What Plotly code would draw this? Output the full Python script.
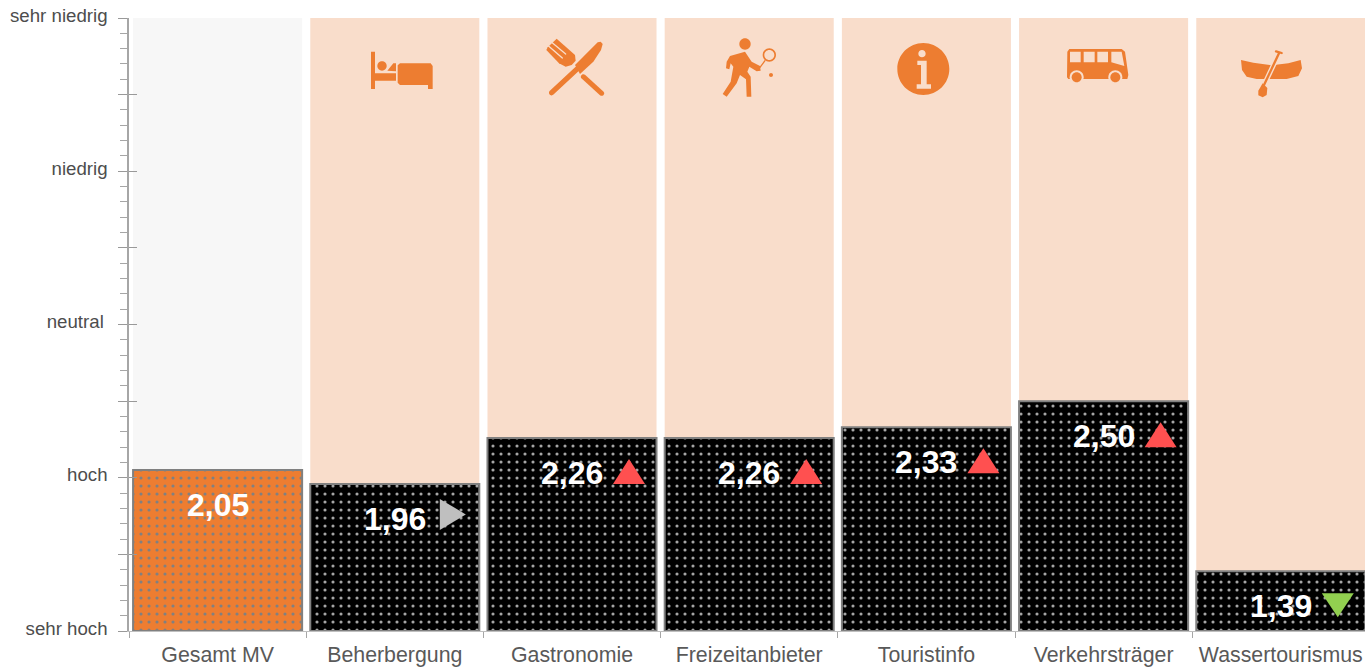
import re
import plotly.graph_objects as go

FONT = "Liberation Sans"
categories = ["Gesamt MV", "Beherbergung", "Gastronomie", "Freizeitanbieter", "Touristinfo", "Verkehrsträger", "Wassertourismus"]
values = [2.05, 1.96, 2.26, 2.26, 2.33, 2.50, 1.39]
labels = ["2,05", "1,96", "2,26", "2,26", "2,33", "2,50", "1,39"]
trends = [None, "same", "up", "up", "up", "up", "down"]
scale_max = 5
scale_min = 1
level_vals = [1, 1.5, 2, 2.5, 3, 3.5, 4, 4.5, 5]
level_text = ["sehr hoch", "", "hoch", "", "neutral\u2009", "", "niedrig", "", "sehr niedrig"]

ORANGE = "#ED7D31"
PEACH = "#F9DDCB"
CENTERS = [129 + 177.2 * (i + .5) for i in range(7)]


# ---- icon geometry helpers; coordinates are in 3x zoomed pixels of an icon box
class Icon:
    def __init__(self, ox, oy, idx):
        self.ox, self.oy, self.cx = ox, oy, CENTERS[idx]

    def pt(self, x, y):
        return f"{self.ox + x / 3 - self.cx:.2f},{-(self.oy + y / 3 - 18):.2f}"

    def poly(self, pts):
        return "M" + " L".join(self.pt(*p) for p in pts) + " Z "

    def ell(self, x, y, rx, ry=None):
        ry = rx if ry is None else ry
        k = .5523
        p = self.pt
        return (f"M{p(x + rx, y)} C{p(x + rx, y + k * ry)} {p(x + k * rx, y + ry)} {p(x, y + ry)} "
                f"C{p(x - k * rx, y + ry)} {p(x - rx, y + k * ry)} {p(x - rx, y)} "
                f"C{p(x - rx, y - k * ry)} {p(x - k * rx, y - ry)} {p(x, y - ry)} "
                f"C{p(x + k * rx, y - ry)} {p(x + rx, y - k * ry)} {p(x + rx, y)} Z ")

    def cap(self, x1, y1, x2, y2, w):
        dx, dy = x2 - x1, y2 - y1
        n = (dx * dx + dy * dy) ** .5 or 1
        ux, uy = dx / n * w / 2, dy / n * w / 2
        p = self.pt
        k = 1.33
        return (f"M{p(x1 - uy, y1 + ux)} L{p(x2 - uy, y2 + ux)} "
                f"C{p(x2 - uy + k * ux, y2 + ux + k * uy)} {p(x2 + uy + k * ux, y2 - ux + k * uy)} {p(x2 + uy, y2 - ux)} "
                f"L{p(x1 + uy, y1 - ux)} "
                f"C{p(x1 + uy - k * ux, y1 - ux - k * uy)} {p(x1 - uy - k * ux, y1 + ux - k * uy)} {p(x1 - uy, y1 + ux)} Z ")


icon_paths = []  # (category index, svg path, fill)


def add(i, col, *parts):
    for part in parts:
        icon_paths.append((i, part, col))


# bed
b = Icon(340, 20, 1)
add(1, ORANGE,
    b.poly([(93, 95), (105, 95), (105, 160), (168, 160), (168, 182), (105, 182), (105, 207), (93, 207)]),
    b.ell(126, 138, 14),
    b.poly([(142, 152), (160, 130), (168, 130), (168, 154)]),
    b.poly([(180, 130), (272, 130), (278, 138), (278, 207), (264, 207), (264, 195), (180, 195), (173, 188), (173, 136)]))
# fork and knife
f = Icon(535, 30, 2)
add(2, ORANGE,
    f.cap(50, 188, 125, 118, 16),
    f.poly([(120, 105), (188, 37), (197, 35), (203, 42), (198, 60), (175, 95), (135, 132)]),
    f.cap(145, 140, 200, 190, 15),
    f.poly([(65, 26), (120, 75), (122, 92), (110, 105), (92, 110), (72, 100), (34, 60), (38, 52)]))
add(2, PEACH, f.cap(49, 36, 92, 72, 4), f.cap(38, 46, 82, 84, 4))
# tennis player
t = Icon(710, 30, 3)
add(3, ORANGE,
    t.ell(105, 42, 17),
    t.poly([(60, 78), (105, 65), (125, 95), (150, 108), (152, 122), (140, 124), (118, 110), (112, 125), (122, 140), (124, 200),
            (110, 200), (108, 148), (90, 135), (80, 160), (50, 200), (38, 192), (62, 155), (70, 110), (62, 100), (58, 118), (48, 115), (50, 95)]),
    t.cap(165, 92, 150, 112, 4),
    t.ell(183, 135, 6),
    t.ell(178, 75, 20) + t.ell(178, 75, 15))
# info
n = Icon(690, 20, 4)
add(4, ORANGE, n.ell(700, 147, 78) + n.ell(696, 101, 11)
    + n.poly([(682, 122), (710, 122), (710, 193), (723, 193), (723, 206), (680, 206), (680, 193), (693, 193), (693, 135), (682, 135)]))
# bus
u = Icon(1040, 20, 5)
add(5, ORANGE, u.poly([(82, 95), (88, 87), (245, 87), (255, 95), (265, 165), (262, 177), (85, 177), (81, 172)])
    + u.poly([(90, 95), (122, 95), (122, 127), (90, 127)]) + u.poly([(131, 95), (164, 95), (164, 127), (131, 127)])
    + u.poly([(172, 95), (204, 95), (204, 127), (172, 127)])
    + u.poly([(214, 95), (245, 95), (253, 138), (214, 127)]))
add(5, PEACH, u.ell(110, 172, 21), u.ell(226, 172, 21))
add(5, ORANGE, u.ell(110, 172, 15), u.ell(226, 172, 15))
# canoe
c = Icon(1040, 20, 6)
add(6, ORANGE, c.poly([(603, 120), (640, 128), (695, 136), (745, 130), (782, 120), (786, 145), (775, 168), (740, 177),
                       (650, 177), (620, 170), (606, 150)]))
add(6, PEACH, c.cap(717, 100, 672, 195, 15))
add(6, ORANGE, c.cap(717, 100, 672, 195, 7), c.cap(708, 94, 725, 99, 7),
    c.poly([(668, 190), (682, 204), (680, 225), (668, 232), (655, 226), (655, 212)]))

tri = {
    "up": ("M-16,-46 L16,-46 L0,-21 Z", "#FF5050", 57),
    "same": ("M-13,-15 L-13,-46 L13,-30.5 Z", "#BFBFBF", 58),
    "down": ("M-16,-22 L16,-22 L0,-46 Z", "#92D050", 57),
}


def value_bars(cats, vals, color, dots):
    return go.Bar(x=cats, y=[v - scale_min for v in vals], base=scale_min, width=.954, hoverinfo="skip", showlegend=False,
                  marker=dict(color=color, line=dict(color="#808080", width=2),
                              pattern=dict(shape=".", size=8, solidity=.12, fgcolor=dots, bgcolor=color, fillmode="replace")))


fig = go.Figure()
fig.add_bar(x=categories, y=[scale_max - scale_min] * 7, base=scale_min, width=.954,
            marker=dict(color=["#F7F7F7"] + [PEACH] * 6, line=dict(width=0)), hoverinfo="skip", showlegend=False)
fig.add_trace(value_bars(categories[:1], values[:1], ORANGE, "#808080"))
fig.add_trace(value_bars(categories[1:], values[1:], "#000000", "#A6A6A6"))
# inner half of the major ticks
fig.add_scatter(x=categories[:1], y=[scale_min], yaxis="y2", mode="markers", marker=dict(opacity=0), hoverinfo="skip", showlegend=False)

shapes = []
for i, path, col in icon_paths:
    shapes.append(dict(type="path", xref="x", yref="y", xsizemode="pixel", ysizemode="pixel", xanchor=categories[i], yanchor=scale_max,
                       path=path, fillcolor=col, fillrule="evenodd", line=dict(width=0), layer="above"))
for cat, v, tr in zip(categories, values, trends):
    if tr:
        p, col, dx = tri[tr]
        p = re.sub(r"(-?[\d.]+),", lambda m: f"{float(m.group(1)) + dx:g},", p)
        shapes.append(dict(type="path", xref="x", yref="y", xsizemode="pixel", ysizemode="pixel", xanchor=cat, yanchor=v,
                           path=p, fillcolor=col, line=dict(width=0), layer="above"))

annotations = [dict(x=cat, y=v, yshift=-35, text=f"<b>{t_}</b>", showarrow=False, yanchor="middle", xanchor="center",
                    font=dict(family=FONT, size=32, color="#FFFFFF"))
               for cat, v, t_ in zip(categories, values, labels)]

fig.update_layout(
    width=1365, height=667, autosize=False, barmode="overlay", plot_bgcolor="#FFFFFF", paper_bgcolor="#FFFFFF",
    margin=dict(l=129, r=0, t=18, b=36, pad=0), hovermode=False, showlegend=False, shapes=shapes, annotations=annotations,
    font=dict(family=FONT),
    xaxis=dict(type="category", categoryorder="array", categoryarray=categories, range=[-.5, (1365 - 129) / 177.2 - .5],
               tickson="boundaries", ticks="outside", ticklen=6, tickcolor="#A6A6A6", tickwidth=1, showgrid=False, zeroline=False,
               showline=True, linecolor="#BFBFBF", linewidth=1, tickfont=dict(size=21.33, color="#595959"), ticklabelstandoff=4,
               automargin=False, fixedrange=True),
    yaxis=dict(range=[scale_min, scale_max], tickmode="array", tickvals=level_vals, ticktext=level_text, ticks="outside", ticklen=9,
               tickcolor="#999999", tickwidth=1, showgrid=False, zeroline=False, showline=True, linecolor="#A6A6A6", linewidth=1.5,
               tickfont=dict(size=18.67, color="#4D4D4D"), ticklabelstandoff=7, ticklabelshift=-3, automargin=False, fixedrange=True,
               minor=dict(dtick=.1, tick0=1, ticks="outside", ticklen=7, tickcolor="#A6A6A6", tickwidth=1, showgrid=False)),
    yaxis2=dict(range=[scale_min, scale_max], overlaying="y", side="left", anchor="x", tickmode="array", tickvals=level_vals,
                ticks="inside", ticklen=8, tickcolor="#999999", tickwidth=1, showticklabels=False, showgrid=False, zeroline=False,
                showline=False, automargin=False, fixedrange=True),
)
fig.write_html("out.html", config=dict(displayModeBar=False), post_script="document.body.style.margin='0';document.documentElement.style.overflow='hidden';")
